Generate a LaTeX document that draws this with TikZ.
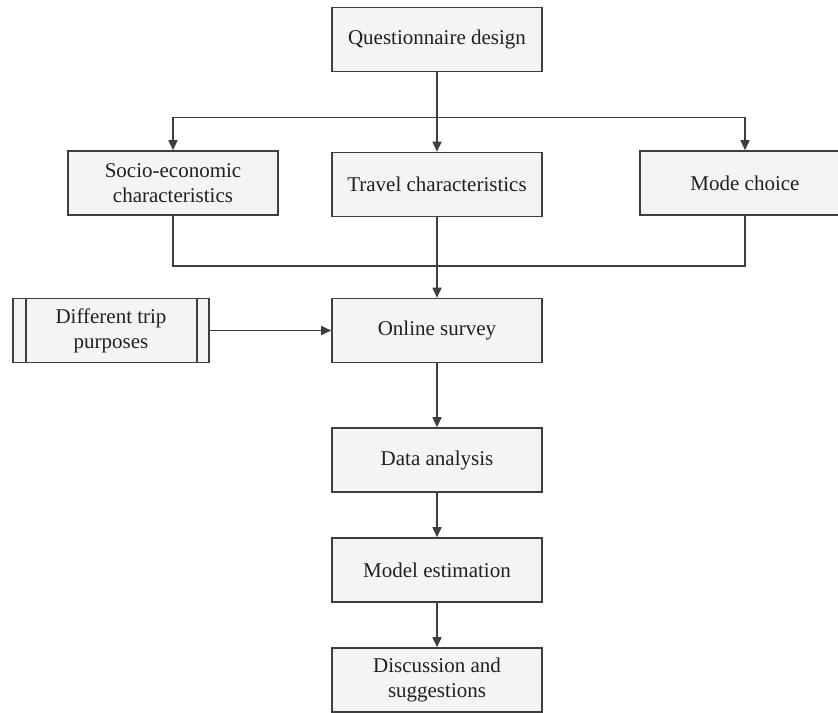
\documentclass[tikz,border=0pt]{standalone}
\usepackage{fontspec}
\setmainfont{Liberation Serif}
\usepackage{tikz}
\usetikzlibrary{arrows.meta}
\usetikzlibrary{calc}
\definecolor{boxgray}{RGB}{243,244,244}
\definecolor{linegray}{RGB}{62,62,62}
\definecolor{textgray}{RGB}{35,31,32}
\tikzset{
  box/.style={draw=linegray, fill=boxgray, line width=0.8pt, minimum width=105pt,
    minimum height=32pt, inner sep=2pt, align=center, text=textgray,
    font=\fontsize{10.5}{12.5}\selectfont},
  line/.style={draw=linegray, line width=0.8pt},
  arr/.style={line, -{Triangle[length=5pt,width=4.5pt]}}
}

\begin{document}
\begin{tikzpicture}[x=0.5pt,y=-0.5pt]
\useasboundingbox (0,0) rectangle (838,712);

\node[box] (quest) at (437, 39.5) {Questionnaire design};
\node[box] (socio) at (173, 183) {Socio-economic\\characteristics};
\node[box] (travel) at (437, 184.5) {Travel characteristics};
\node[box] (mode) at (745, 183) {Mode choice};
\node[box, minimum width=98pt] (trip) at (111, 330.5) {Different trip\\purposes};
\node[box] (online) at (437, 330.5) {Online survey};
\node[box] (data) at (437, 460) {Data analysis};
\node[box] (model) at (437, 570) {Model estimation};
\node[box] (disc) at (437, 680) {Discussion and\\suggestions};

\coordinate (topbus) at (437, 117.5);
\coordinate (botbus) at (437, 266);

% double sides of the trip box
\draw[line] ([xshift=7pt]trip.north west) -- ([xshift=7pt]trip.south west);
\draw[line] ([xshift=-6.5pt]trip.north east) -- ([xshift=-6.5pt]trip.south east);

\draw[line] (quest.south) -- (topbus);
\draw[arr] (topbus) -| (socio.north);
\draw[arr] (topbus) -- (travel.north);
\draw[arr] (topbus) -| (mode.north);

\draw[line] (socio.south) |- (botbus);
\draw[line] (mode.south) |- (botbus);
\draw[line] (travel.south) -- (botbus);
\draw[arr] (botbus) -- (online.north);

\draw[arr] (trip.east) -- (online.west);
\draw[arr] (online) -- (data);
\draw[arr] (data) -- (model);
\draw[arr] (model) -- (disc);

\end{tikzpicture}
\end{document}
